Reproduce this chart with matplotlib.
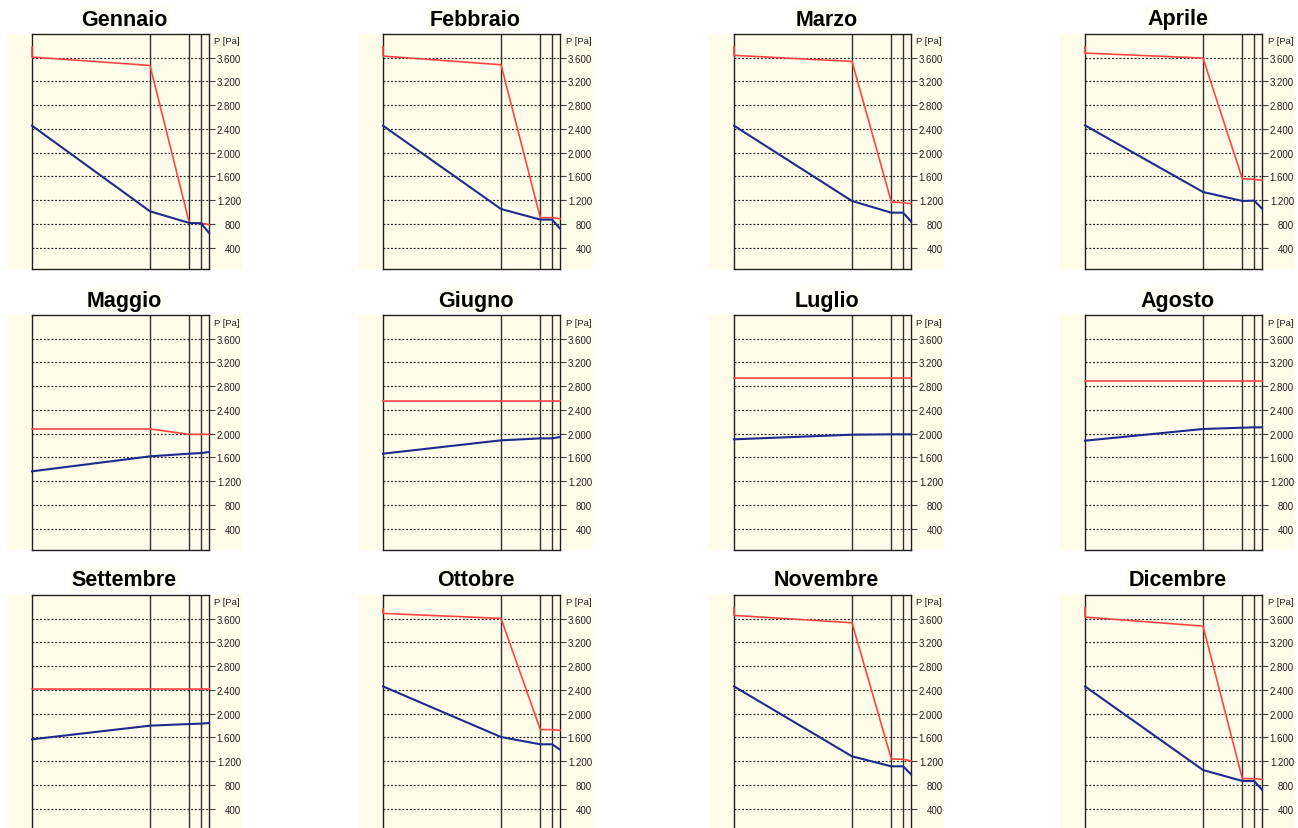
import numpy as np
import matplotlib
matplotlib.use("Agg")
import matplotlib.pyplot as plt
from matplotlib.patches import Rectangle

# months and wall layers (thickness in cm, inside -> outside)
months = ["Gennaio", "Febbraio", "Marzo", "Aprile",
          "Maggio", "Giugno", "Luglio", "Agosto",
          "Settembre", "Ottobre", "Novembre", "Dicembre"]
layers = [30, 10, 3, 2]

# saturation pressure (red): inner surface step, then each interface
ps_sat = [
    [3780, 3612, 3470, 816, 816, 788],
    [3780, 3628, 3482, 905, 905, 888],
    [3780, 3640, 3538, 1170, 1158, 1141],
    [3780, 3679, 3594, 1562, 1550, 1534],
    [2079, 2079, 2079, 1989, 1989, 1989],
    [2545, 2545, 2545, 2545, 2545, 2545],
    [2932, 2932, 2932, 2932, 2932, 2932],
    [2887, 2887, 2887, 2887, 2887, 2887],
    [2410, 2410, 2410, 2410, 2410, 2410],
    [3768, 3690, 3606, 1731, 1731, 1719],
    [3780, 3656, 3533, 1237, 1232, 1203],
    [3780, 3628, 3476, 905, 905, 894],
]

# vapour partial pressure (blue) at each interface
p_vap = [
    [2455, 1012, 816, 810, 648],
    [2455, 1051, 872, 872, 720],
    [2455, 1186, 989, 989, 843],
    [2460, 1338, 1186, 1192, 1057],
    [1366, 1618, 1663, 1674, 1691],
    [1663, 1888, 1921, 1921, 1944],
    [1905, 1983, 1989, 1989, 1989],
    [1882, 2079, 2101, 2107, 2107],
    [1568, 1798, 1826, 1832, 1843],
    [2460, 1607, 1484, 1484, 1394],
    [2460, 1281, 1113, 1113, 978],
    [2460, 1051, 866, 866, 720],
]

yticks = [400, 800, 1200, 1600, 2000, 2400, 2800, 3200, 3600]

W, H = 1298, 829
cream = "#fffdea"
red = "#ff4545"
navy = "#1f2a8e"

bounds = np.concatenate([[0], np.cumsum(layers)])
x_red = np.concatenate([[0], bounds])
x_blue = bounds

fig = plt.figure(figsize=(W / 100, H / 100), dpi=100)
fig.patch.set_facecolor("white")


def fx(px):
    return px / W


def fy(py):
    return 1 - py / H


col_left = [32, 383, 734, 1085]
row_top = [35, 316, 596]
aw, ah = 177, 235

for i, name in enumerate(months):
    r, c = divmod(i, 4)
    left, top = col_left[c], row_top[r]

    # cream panel background (wider than the plot frame)
    fig.add_artist(Rectangle((fx(left - 25), fy(top + ah)), 235 / W, ah / H,
                             transform=fig.transFigure, facecolor=cream,
                             edgecolor="none", zorder=-1))

    ax = fig.add_axes([fx(left), fy(top + ah), aw / W, ah / H])
    ax.set_facecolor(cream)

    for b in bounds[1:-1]:
        ax.axvline(b, color="#303030", lw=1.0, zorder=2)

    ax.plot(x_red, ps_sat[i], color=red, lw=1.2, zorder=4, clip_on=False)
    ax.plot(x_blue, p_vap[i], color=navy, lw=1.5, zorder=5, clip_on=False)

    ax.set_xlim(0, bounds[-1])
    ax.set_ylim(40, 4000)
    ax.set_xticks([])
    ax.set_yticks(yticks)
    ax.yaxis.grid(True, color="#202020", linestyle=(0, (1.6, 1.6)), lw=0.85, zorder=1)
    ax.set_axisbelow(True)
    ax.tick_params(axis="y", left=False, labelleft=False, right=True, labelright=True,
                   length=4, width=0.8, color="#404040", pad=19,
                   labelsize=7, labelcolor="#202020")
    ax.set_yticklabels(["{:,}".format(v).replace(",", ".") for v in yticks],
                       family="Liberation Sans")
    for lab in ax.get_yticklabels():
        lab.set_horizontalalignment("right")
    for s in ax.spines.values():
        s.set_color("#202020")
        s.set_linewidth(1.0)

    fig.text(fx(left + 208), fy(top + 7), "P [Pa]", ha="right", va="center",
             fontsize=6.8, family="Liberation Sans", color="#202020")

    fig.text(fx(left + 92.5), fy(top - 15), name, ha="center", va="center",
             fontsize=15.5, fontweight="bold", family="Liberation Sans",
             bbox=dict(facecolor="#fffef4", edgecolor="none", pad=1.5))

fig.savefig("out.png", dpi=100)
